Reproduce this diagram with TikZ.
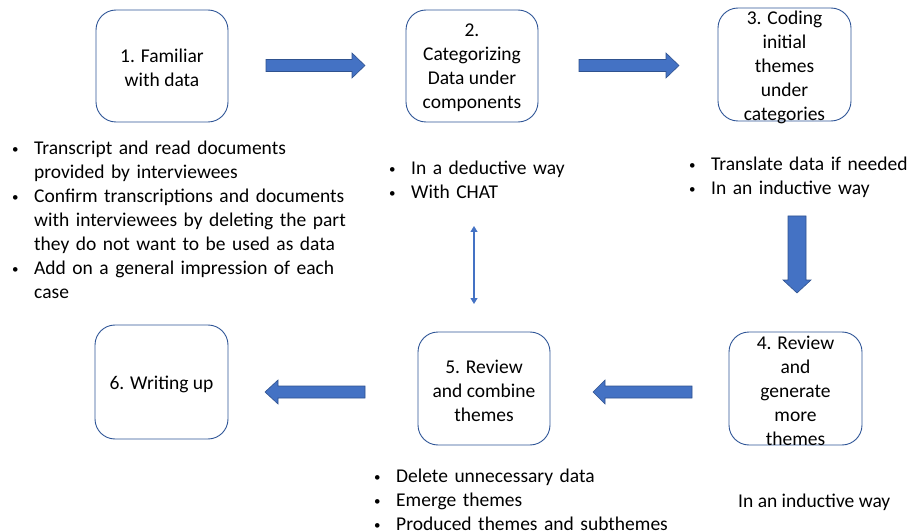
\documentclass[tikz,border=0pt]{standalone}
\usepackage{fontspec}
\setmainfont{Carlito}
\usetikzlibrary{arrows.meta,calc}
\definecolor{boxline}{HTML}{2F5597}
\definecolor{arrowfill}{HTML}{4472C4}
\definecolor{arrowline}{HTML}{2F528F}
\tikzset{
  stagebox/.style={draw=boxline, line width=0.9pt, rounded corners=20pt, fill=white},
  stagetext/.style={align=center, font=\fontsize{19.5}{24}\selectfont, inner sep=0pt},
  listtext/.style={align=left, anchor=north west, font=\fontsize{19.5}{24}\selectfont, inner sep=0pt, text width=#1},
  blockarrow/.style={fill=arrowfill, draw=arrowline, line width=0.6pt},
  linkarrow/.style={draw=arrowfill, line width=1.1pt, {Triangle[length=6pt,width=7pt]}-{Triangle[length=6pt,width=7pt]}}
}
\newcommand{\bul}{\makebox[22pt][l]{\raisebox{1pt}{\fontsize{13}{13}\selectfont\textbullet}}}
\begin{document}
\begin{tikzpicture}[x=1pt,y=-1pt]
\useasboundingbox (0,0) rectangle (914,532);

% stage boxes
\draw[stagebox] (96,10) rectangle (228,122);
\node[stagetext] (s1) at (162,67.5) {1. Familiar\\with data};
\draw[stagebox] (406,10) rectangle (538,122);
\node[stagetext] (s2) at (472,68) {2.\\Categorizing\\Data under\\components};
\draw[stagebox] (718,8) rectangle (851,121);
\node[stagetext] (s3) at (784.5,67) {3. Coding\\initial\\themes\\under\\categories};
\draw[stagebox] (729,332) rectangle (862,445);
\node[stagetext] (s4) at (795.5,391) {4. Review\\and\\generate\\more\\themes};
\draw[stagebox] (418,332) rectangle (550,445);
\node[stagetext] (s5) at (484,391) {5. Review\\and combine\\themes};
\draw[stagebox] (95,325) rectangle (228,439);
\node[stagetext] (s6) at (161.5,384) {6. Writing up};

% block arrows between stages
\draw[blockarrow] (266,59.5) -- (352,59.5) -- (352,53) -- (365,65.5) -- (352,78) -- (352,71.5) -- (266,71.5) -- cycle;
\draw[blockarrow] (579,59.5) -- (666,59.5) -- (666,53) -- (679,65.5) -- (666,78) -- (666,71.5) -- (579,71.5) -- cycle;
\draw[blockarrow] (788,216) -- (806,216) -- (806,280) -- (811,280) -- (797,293) -- (783,280) -- (788,280) -- cycle;
\draw[blockarrow] (692,386) -- (605,386) -- (605,380) -- (593,392) -- (605,404) -- (605,398) -- (692,398) -- cycle;
\draw[blockarrow] (365,386) -- (278,386) -- (278,380) -- (265,392) -- (278,404) -- (278,398) -- (365,398) -- cycle;

% link between the two review stages
\coordinate (lt) at (474,226);
\coordinate (lb) at (474,304);
\draw[linkarrow] (lt) -- (lb);

% notes
\node[listtext=340pt] (n1) at (12,141) {%
\bul Transcript and read documents\\
\hspace*{22pt}provided by interviewees\\
\bul Confirm transcriptions and documents\\
\hspace*{22pt}with interviewees by deleting the part\\
\hspace*{22pt}they do not want to be used as data\\
\bul Add on a general impression of each\\
\hspace*{22pt}case};
\node[listtext=200pt] (n2) at (389,161) {\bul In a deductive way\\\bul With CHAT};
\node[listtext=230pt] (n3) at (689,157) {\bul Translate data if needed\\\bul In an inductive way};
\node[listtext=300pt] (n5) at (374,469) {\bul Delete unnecessary data\\\bul Emerge themes\\\bul Produced themes and subthemes};
\node[stagetext, anchor=west] (n4) at (738,502) {In an inductive way};
\end{tikzpicture}
\end{document}
